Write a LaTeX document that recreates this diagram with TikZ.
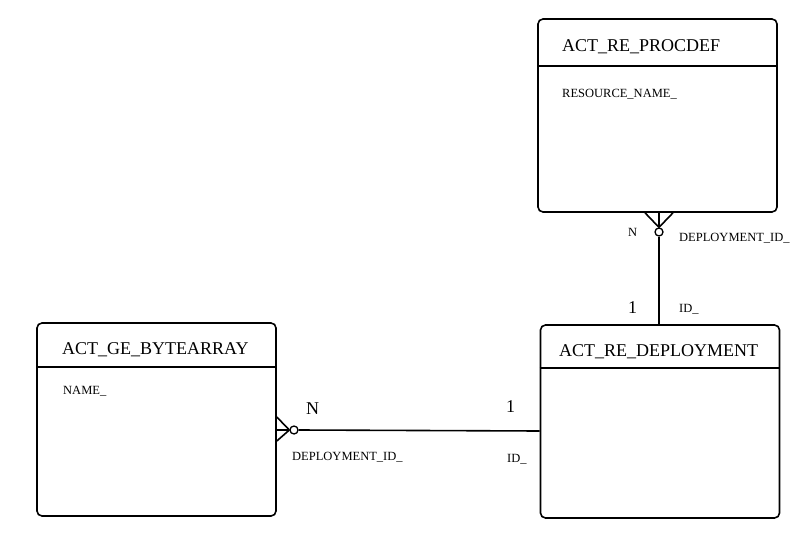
\documentclass[tikz,border=0pt]{standalone}
\usepackage{fontspec}
\setmainfont{Liberation Serif}
\usetikzlibrary{calc}

\tikzset{
  entity/.style={draw,line width=1.6pt,rounded corners=5pt,minimum width=239pt,minimum height=193pt,inner sep=0pt},
  tabletitle/.style={anchor=base west,inner sep=0pt,font=\fontsize{18}{20}\selectfont},
  tablefield/.style={anchor=base west,inner sep=0pt,font=\fontsize{12.5}{14}\selectfont},
  cardbig/.style={anchor=base west,inner sep=0pt,font=\fontsize{18}{20}\selectfont},
  cardsmall/.style={anchor=base west,inner sep=0pt,font=\fontsize{12.5}{14}\selectfont},
  relline/.style={line width=1.6pt},
}

\begin{document}
\begin{tikzpicture}[x=1pt,y=-1pt]
        \useasboundingbox (0,0) rectangle (809,546);
        % ACT_RE_PROCDEF table
        \node[entity] (procdef) at (657.5,115.5) {};
        \draw[line width=1.6pt] (procdef.west |- 0,66) -- (procdef.east |- 0,66);
        \node[tabletitle] (procdefname) at (562,51) {ACT\_RE\_PROCDEF};
        \node[tablefield] (procdeffield) at (562,97) {RESOURCE\_NAME\_};
        % ACT_GE_BYTEARRAY table
        \node[entity] (bytearray) at (156.5,419.5) {};
        \draw[line width=1.6pt] (bytearray.west |- 0,367) -- (bytearray.east |- 0,367);
        \node[tabletitle] (bytearrayname) at (62,354) {ACT\_GE\_BYTEARRAY};
        \node[tablefield] (bytearrayfield) at (63,394) {NAME\_};
        % ACT_RE_DEPLOYMENT table
        \node[entity] (deployment) at (660,421.5) {};
        \draw[line width=1.6pt] (deployment.west |- 0,368) -- (deployment.east |- 0,368);
        \node[tabletitle] (deploymentname) at (559,356) {ACT\_RE\_DEPLOYMENT};
        % bytearray N -- 1 deployment
        \coordinate (byteport) at (bytearray.east |- 0,430);
        \coordinate (depport) at (deployment.west |- 0,431);
        \node[draw,circle,line width=1.3pt,minimum size=8pt,inner sep=0pt] (bytering) at (294,430) {};
        \draw[relline] (bytering.east) -- (depport);
        \draw[relline] ($(byteport)+(0,-13)$) -- (bytering.west);
        \draw[relline] (byteport) -- (bytering.west);
        \draw[relline] ($(byteport)+(0,11)$) -- (bytering.west);
        \node[cardbig] (byten) at (306,414) {N};
        \node[cardsmall] (bytefk) at (292,460) {DEPLOYMENT\_ID\_};
        \node[cardbig] (depone) at (506,412) {1};
        \node[cardsmall] (depid) at (507,462) {ID\_};
        % procdef N -- 1 deployment
        \coordinate (procport) at (procdef.south -| 659,0);
        \coordinate (deptop) at (deployment.north -| 659,0);
        \node[draw,circle,line width=1.3pt,minimum size=8pt,inner sep=0pt] (procring) at (659,232) {};
        \draw[relline] (procring.south) -- (deptop);
        \draw[relline] ($(procport)+(-14,0)$) -- (procring.north);
        \draw[relline] (procport) -- (procring.north);
        \draw[relline] ($(procport)+(14,0)$) -- (procring.north);
        \node[cardsmall] (procn) at (628,236) {N};
        \node[cardsmall] (procfk) at (679,241) {DEPLOYMENT\_ID\_};
        \node[cardbig] (deptopone) at (628,313) {1};
        \node[cardsmall] (deptopid) at (679,312) {ID\_};
    \end{tikzpicture}
\end{document}
